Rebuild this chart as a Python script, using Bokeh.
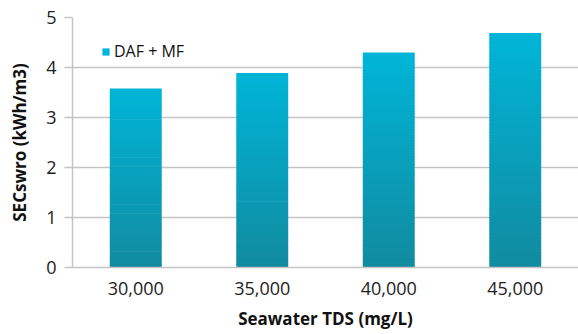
from bokeh.plotting import figure
from bokeh.models import ColumnDataSource, Legend, LegendItem, FactorRange, Range1d
from bokeh.embed import file_html
from bokeh.resources import INLINE

# ---- data ----
categories = ["30,000", "35,000", "40,000", "45,000"]
sec_swro = [3.58, 3.89, 4.30, 4.69]
series_name = "DAF + MF"
y_ticks = [0, 1, 2, 3, 4, 5]

# ---- gradient styling ----
top_rgb = (0, 181, 216)
bot_rgb = (17, 139, 160)
N = 80

def mix(f):
    r = [int(round(b + (t - b) * f)) for t, b in zip(top_rgb, bot_rgb)]
    return "#%02x%02x%02x" % tuple(r)

xs, bottoms, tops, colors = [], [], [], []
for k in range(N - 1, -1, -1):  # top slice first
    for cat, v in zip(categories, sec_swro):
        xs.append(cat)
        bottoms.append(v * k / N)
        tops.append(v * (k + 1.3) / N if k < N - 1 else v)
        colors.append(mix((k + 0.5) / N))

src = ColumnDataSource(dict(x=xs, bottom=bottoms, top=tops, color=colors))

p = figure(width=578, height=334, x_range=FactorRange(*categories, range_padding=0),
           y_range=Range1d(0, 5), output_backend="svg", toolbar_location=None,
           min_border_left=72, min_border_right=0, min_border_top=17, min_border_bottom=67)
p.x_range.range_padding = 0
p.outline_line_color = None
p.background_fill_color = "white"
p.border_fill_color = "white"

r = p.vbar(x="x", bottom="bottom", top="top", width=0.41, source=src,
           fill_color="color", line_color=None)

font = "Open Sans"
p.xgrid.grid_line_color = None
p.ygrid.grid_line_color = "#c4c4c4"
p.ygrid.grid_line_width = 1.5
p.yaxis.ticker = y_ticks

for ax in (p.xaxis[0], p.yaxis[0]):
    ax.axis_line_color = "#c4c4c4"
    ax.axis_line_width = 1.5
    ax.major_label_text_font = font
    ax.major_label_text_font_size = "18px"
    ax.major_label_text_color = "#222222"
    ax.axis_label_text_font = font
    ax.axis_label_text_font_style = "bold"
    ax.axis_label_text_font_size = "17px"
    ax.axis_label_text_color = "#111111"
    ax.minor_tick_line_color = None

p.xaxis.axis_label = "Seawater TDS (mg/L)"
p.xaxis.major_tick_line_color = None
p.xaxis.major_label_standoff = 8
p.xaxis.axis_label_standoff = 9

p.yaxis.axis_label = "SECswro (kWh/m3)"
p.yaxis.major_tick_line_color = "#c4c4c4"
p.yaxis.major_tick_line_width = 1.5
p.yaxis.major_tick_in = 0
p.yaxis.major_tick_out = 8
p.yaxis.major_label_standoff = 8
p.yaxis.axis_label_standoff = 12

legend = Legend(items=[LegendItem(label=series_name, renderers=[r], index=0)],
                location=(29, 205), padding=0, margin=0, border_line_color=None,
                background_fill_alpha=0, glyph_width=9, glyph_height=9,
                label_standoff=4, label_text_font=font, label_text_font_size="16px",
                label_text_color="#111111")
p.add_layout(legend, "center")

open("out.html", "w").write(file_html(p, INLINE))
